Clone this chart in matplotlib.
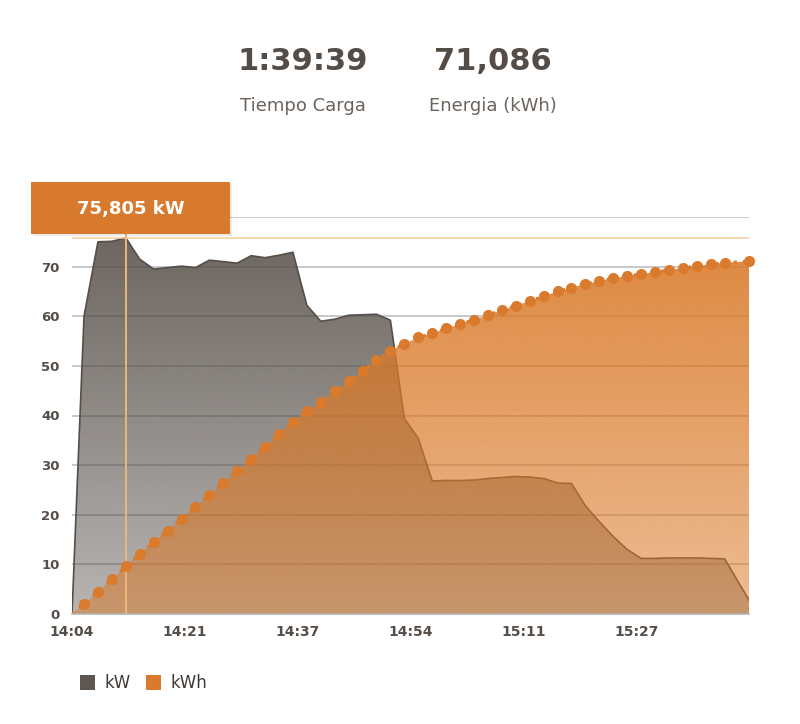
import numpy as np
import matplotlib
matplotlib.use("Agg")
import matplotlib.pyplot as plt
from matplotlib.patches import Rectangle

# ---------------- data ----------------
times_min = [0, 1.77, 3.82, 5.87, 7.92, 9.97, 12.02, 14.07, 16.12, 18.17, 20.22,
             22.27, 24.32, 26.37, 28.42, 30.47, 32.52, 34.57, 36.62, 38.67, 40.72,
             42.77, 44.82, 46.87, 48.92, 50.97, 53.02, 55.07, 57.12, 59.17, 61.22,
             63.27, 65.32, 67.37, 69.42, 71.47, 73.52, 75.57, 77.62, 79.67, 81.72,
             83.77, 85.82, 87.87, 89.92, 91.97, 94.02, 96.07, 99.65]
kw = [0, 60.0, 75.0, 75.1, 75.805, 71.5, 69.5, 69.8, 70.1, 69.8, 71.3,
      71.0, 70.7, 72.2, 71.8, 72.3, 72.9, 62.2, 59.0, 59.4, 60.2,
      60.3, 60.4, 59.2, 39.4, 35.4, 26.8, 26.9, 26.9, 27.0, 27.3,
      27.5, 27.7, 27.6, 27.3, 26.4, 26.3, 21.8, 18.6, 15.6, 13.0,
      11.2, 11.2, 11.3, 11.3, 11.3, 11.2, 11.1, 2.8]
kwh = [0, 1.95, 4.49, 7.05, 9.61, 12.09, 14.50, 16.78, 19.14, 21.62, 24.03,
       26.39, 28.87, 31.29, 33.70, 36.20, 38.68, 40.83, 42.77, 44.85, 46.86,
       48.95, 51.11, 53.04, 54.39, 55.74, 56.55, 57.55, 58.42, 59.29, 60.24,
       61.18, 62.11, 63.05, 64.0, 65.01, 65.75, 66.5, 67.1, 67.65, 68.1,
       68.5, 68.9, 69.3, 69.7, 70.1, 70.5, 70.8, 71.086]
x_tick_labels = ["14:04", "14:21", "14:37", "14:54", "15:11", "15:27"]
y_ticks = [0, 10, 20, 30, 40, 50, 60, 70]
duration_min = 99.65
tooltip_index = 4
tooltip_text = "75,805 kW"
header_values = ["1:39:39", "71,086"]
header_labels = ["Tiempo Carga", "Energia (kWh)"]
legend_labels = ["kW", "kWh"]

# ---------------- style ----------------
W, H = 800, 724
fig = plt.figure(figsize=(W / 100, H / 100), dpi=100)
plt.rcParams['font.family'] = ['DejaVu Sans']

def fx(px):
    return px / W

def fy(py):
    return 1 - py / H

ax_l, ax_r, ax_t, ax_b = 72, 749, 217, 614
ax = fig.add_axes([fx(ax_l), fy(ax_b), (ax_r - ax_l) / W, (ax_b - ax_t) / H])
YMAX = 80
ax.set_xlim(0, duration_min)
ax.set_ylim(0, YMAX)

text_dark = '#554d47'
grid_col = '#b9b9b9'
orange = '#d97a2c'

# grid lines
for v in y_ticks + [80]:
    ax.axhline(v, color=grid_col, lw=1.1, zorder=1)

t = np.array(times_min)
kw_a = np.array(kw)
kwh_a = np.array(kwh)


def gradient_fill(x, y, rgb, a_top, a_bot, z):
    poly = ax.fill_between(x, 0, y, facecolor='none', edgecolor='none', zorder=z)
    img = np.zeros((256, 1, 4))
    img[:, 0, 0] = rgb[0] / 255
    img[:, 0, 1] = rgb[1] / 255
    img[:, 0, 2] = rgb[2] / 255
    img[:, 0, 3] = np.linspace(a_top, a_bot, 256)
    im = ax.imshow(img, aspect='auto', extent=[0, duration_min, 0, YMAX],
                   origin='upper', zorder=z, interpolation='bilinear')
    im.set_clip_path(poly.get_paths()[0], transform=ax.transData)
    return im

# kW area (gray gradient)
gradient_fill(t, kw_a, (84, 76, 70), 0.88, 0.42, 2)
ax.plot(t, kw_a, color='#564e48', lw=1.2, zorder=3)

# kWh area (orange gradient)
gradient_fill(t, kwh_a, (218, 121, 40), 0.92, 0.50, 4)

# tooltip guide lines
ax.axhline(kw[tooltip_index], color='#f6cc9d', lw=1.1, zorder=5)
ax.plot([t[tooltip_index], t[tooltip_index]], [0, YMAX], color='#efb47a', lw=1.4, zorder=5)

# kWh dotted line + dots
ax.plot(t, kwh_a, color=orange, lw=2.2, ls=(0, (1, 2)), zorder=6)
ax.plot(t[1:], kwh_a[1:], ls='none', marker='o', ms=8, color=orange,
        markeredgewidth=0, zorder=7, clip_on=False)

ax.set_xlim(0, duration_min)
ax.set_ylim(0, YMAX)

# axes styling
for s in ['top', 'right', 'left']:
    ax.spines[s].set_visible(False)
ax.spines['bottom'].set_color('#b5b5b5')
ax.spines['bottom'].set_linewidth(1.2)
ax.spines['bottom'].set_zorder(8)

x_tick_pos = [k * duration_min / 6 for k in range(len(x_tick_labels))]
ax.set_xticks(x_tick_pos)
ax.set_xticklabels(x_tick_labels, fontsize=10, fontweight='bold', color=text_dark)
ax.set_yticks(y_ticks)
ax.set_yticklabels([str(v) for v in y_ticks], fontsize=9.5, fontweight='bold', color=text_dark)
ax.tick_params(axis='both', length=0)
ax.tick_params(axis='x', pad=8)
ax.tick_params(axis='y', pad=9)

# tooltip box
shadow = Rectangle((fx(33), fy(236)), 199 / W, 52 / H, transform=fig.transFigure,
                   facecolor='black', alpha=0.08, edgecolor='none', zorder=9)
fig.patches.append(shadow)
box = Rectangle((fx(31), fy(233.5)), 199 / W, 51.5 / H, transform=fig.transFigure,
                facecolor='#d77a2e', edgecolor='none', zorder=10)
fig.patches.append(box)
fig.text(fx(131), fy(209), tooltip_text, color='white', fontsize=13, fontweight='bold',
         ha='center', va='center', zorder=11)

# header
for cx, val, lab in zip([303, 493], header_values, header_labels):
    fig.text(fx(cx), fy(62), val, fontsize=22, fontweight='bold', color='#544c46',
             ha='center', va='center')
    fig.text(fx(cx), fy(106), lab, fontsize=13, color='#6b635d',
             ha='center', va='center')

# legend
leg_cols = ['#5e5650', orange]
for sx, tx, col, lab in zip([80, 146], [104, 170], leg_cols, legend_labels):
    fig.patches.append(Rectangle((fx(sx), fy(690)), 15 / W, 15 / H,
                                 transform=fig.transFigure, facecolor=col,
                                 edgecolor='none'))
    fig.text(fx(tx), fy(683), lab, fontsize=12, color='#3f3a36', ha='left', va='center')

fig.savefig('out.png', dpi=100)
